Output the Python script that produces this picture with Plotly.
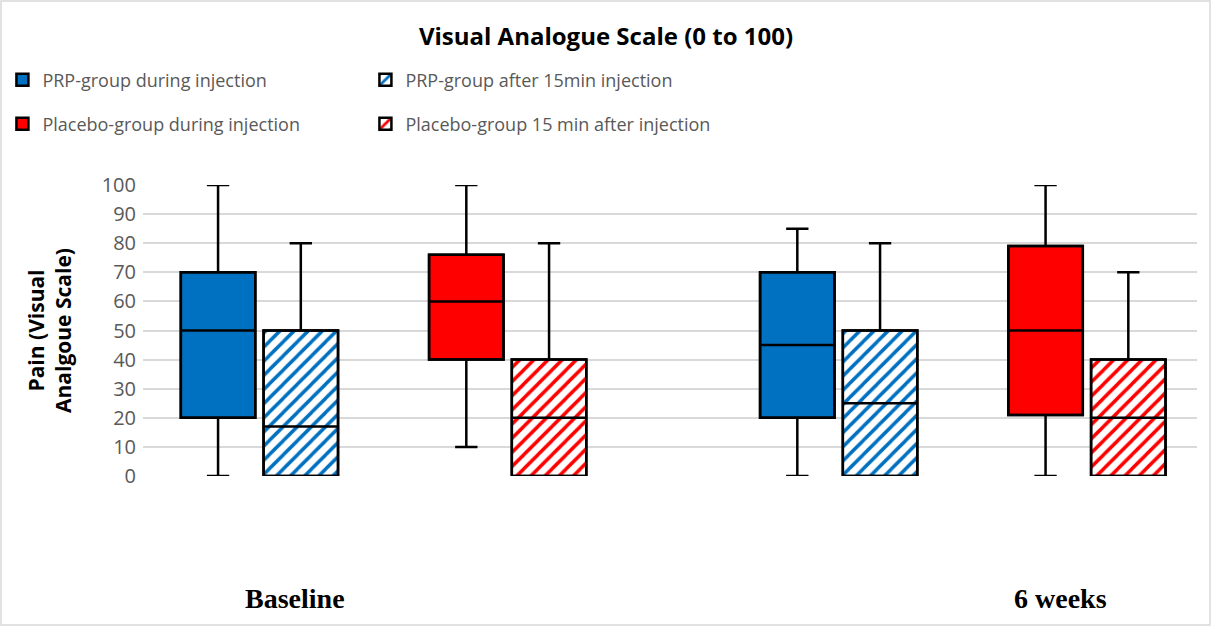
import plotly.graph_objects as go

# ---------------- data ----------------
groups = ["Baseline", "6 weeks"]
series_names = [
    "PRP-group during injection",
    "PRP-group after 15min injection",
    "Placebo-group during injection",
    "Placebo-group 15 min after injection",
]
# stats per series: [Baseline, 6 weeks]
lower = {
    "PRP-group during injection": [0, 0],
    "PRP-group after 15min injection": [0, 0],
    "Placebo-group during injection": [10, 0],
    "Placebo-group 15 min after injection": [0, 0],
}
q1 = {
    "PRP-group during injection": [20, 20],
    "PRP-group after 15min injection": [0, 0],
    "Placebo-group during injection": [40, 21],
    "Placebo-group 15 min after injection": [0, 0],
}
median = {
    "PRP-group during injection": [50, 45],
    "PRP-group after 15min injection": [17, 25],
    "Placebo-group during injection": [60, 50],
    "Placebo-group 15 min after injection": [20, 20],
}
q3 = {
    "PRP-group during injection": [70, 70],
    "PRP-group after 15min injection": [50, 50],
    "Placebo-group during injection": [76, 79],
    "Placebo-group 15 min after injection": [40, 40],
}
upper = {
    "PRP-group during injection": [100, 85],
    "PRP-group after 15min injection": [80, 80],
    "Placebo-group during injection": [100, 100],
    "Placebo-group 15 min after injection": [80, 70],
}
y_ticks = [0, 10, 20, 30, 40, 50, 60, 70, 80, 90, 100]

# ---------------- styling ----------------
BLUE = "#0070C0"
RED = "#FF0000"
style = {
    "PRP-group during injection": (BLUE, "", "legend"),
    "PRP-group after 15min injection": (BLUE, "/", "legend"),
    "Placebo-group during injection": (RED, "", "legend2"),
    "Placebo-group 15 min after injection": (RED, "/", "legend2"),
}
slot_in_group = [1, 2, 4, 5]   # slot positions inside a group
group_offset = [0, 7]          # slot offset per group
BOX_W = 0.9

fig = go.Figure()

# filled / hatched bodies (bars, underneath)
for si, name in enumerate(series_names):
    color, shape, leg = style[name]
    xs = [slot_in_group[si] + group_offset[g] for g in range(len(groups))]
    heights = [q3[name][g] - q1[name][g] for g in range(len(groups))]
    pattern = dict(shape=shape, fgcolor=color, bgcolor="white", size=10, solidity=0.35, fillmode="replace") if shape else dict(shape="")
    fig.add_trace(go.Bar(
        x=xs, y=heights, base=q1[name], width=BOX_W, name=name,
        marker=dict(color=color if not shape else "white", line=dict(color="black", width=2.5), pattern=pattern),
        legend=leg, showlegend=True, hoverinfo="skip",
    ))

# box outlines, medians, whiskers (on top)
for si, name in enumerate(series_names):
    xs = [slot_in_group[si] + group_offset[g] for g in range(len(groups))]
    fig.add_trace(go.Box(
        x=xs, q1=q1[name], median=median[name], q3=q3[name],
        lowerfence=lower[name], upperfence=upper[name],
        width=BOX_W, whiskerwidth=0.3,
        fillcolor="rgba(0,0,0,0)", line=dict(color="black", width=2.5),
        showlegend=False, boxpoints=False, hoverinfo="skip",
    ))

W, H = 1212, 627
L, R, T, B = 143, 15, 185, 151
pw, ph = W - L - R, H - T - B

legend_common = dict(orientation="h", xref="container", yref="container", x=0.002,
                     xanchor="left", yanchor="middle", entrywidth=318, entrywidthmode="pixels",
                     font=dict(family="Open Sans", size=18, color="#595959"), bgcolor="rgba(0,0,0,0)")

fig.update_layout(
    width=W, height=H,
    margin=dict(l=L, r=R, t=T, b=B),
    paper_bgcolor="white", plot_bgcolor="white",
    barmode="overlay", boxmode="overlay",
    title=dict(text="<b>Visual Analogue Scale (0 to 100)</b>", x=0.5, xanchor="center",
               y=1 - 37 / H, yanchor="middle", yref="container",
               font=dict(family="Open Sans", size=24, color="black")),
    font=dict(family="Open Sans", color="#595959"),
    legend=dict(legend_common, y=1 - 80 / H),
    legend2=dict(legend_common, y=1 - 124 / H),
    xaxis=dict(range=[0.093, 12.83], showticklabels=False, showgrid=False, zeroline=False,
               showline=False, ticks=""),
    yaxis=dict(range=[0, 100], tickvals=y_ticks, showgrid=True, gridcolor="#D9D9D9", gridwidth=1.5,
               zeroline=False, showline=False, ticks="", ticklabelstandoff=6,
               tickfont=dict(family="Open Sans", size=20, color="#595959"),
               title=dict(text="<b>Pain (Visual<br>Analgoue Scale)</b>", standoff=24,
                          font=dict(family="Open Sans", size=21, color="black"))),
    showlegend=True,
)

# group labels below the plot
label_x = [1.93, 11.18]
for g, txt in enumerate(groups):
    fig.add_annotation(text="<b>%s</b>" % txt, x=label_x[g], xref="x",
                       y=-(598 - (T + ph)) / ph, yref="paper", yanchor="middle",
                       showarrow=False, font=dict(family="Liberation Serif", size=28, color="black"))

# light outer border of the chart
fig.add_shape(type="rect", xref="paper", yref="paper",
              x0=(1 - L) / pw, x1=(W - 2 - L) / pw,
              y0=(T + ph - (H - 2)) / ph, y1=(T + ph - 1) / ph,
              line=dict(color="#D9D9D9", width=1.5), fillcolor="rgba(0,0,0,0)", layer="below")

fig.write_html("out.html")
